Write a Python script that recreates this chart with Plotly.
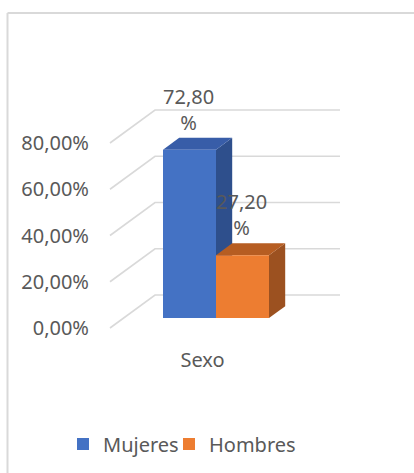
import plotly.graph_objects as go

# ---- data ----
categories = ["Sexo"]
series_names = ["Mujeres", "Hombres"]
mujeres = [72.8]
hombres = [27.2]
y_ticks = [0, 20, 40, 60, 80]
y_tick_labels = ["0,00%", "20,00%", "40,00%", "60,00%", "80,00%"]
value_labels = {"Mujeres": ["72,80<br>%"], "Hombres": ["27,20<br>%"]}

# ---- styles / geometry ----
front_colors = {"Mujeres": "#4472C4", "Hombres": "#ED7D31"}
top_colors = {"Mujeres": "#385DA8", "Hombres": "#B65D22"}
side_colors = {"Mujeres": "#2E4F8C", "Hombres": "#9C5120"}
TXT = "#595959"
FONT = "Noto Sans"
W, H = 414, 473
ML, MB = 95, 133
CAT_X = [202.5]         # category center (front plane)
BAR_W = 53
DX, DY = 45, 14.27      # full depth offset (x px units, y value units)
D0, D1 = 0.30, 0.66     # bar depth start / end
GRID_X0, GRID_X1 = 110, 340
LEGEND_X = {"Mujeres": 63, "Hombres": 169}   # legend left edges (px)

fig = go.Figure()
shapes = []

# gridlines (floor / wall), drawn below bars
for v in y_ticks:
    shapes.append(dict(type="path", xref="x", yref="y", layer="below",
                       path=f"M{GRID_X0},{v} L{GRID_X0+DX},{v+DY} L{GRID_X1},{v+DY}",
                       line=dict(color="#D9D9D9", width=1.6)))

series = {"Mujeres": mujeres, "Hombres": hombres}
annotations = []
legend_keys = ["legend", "legend2"]
for i, name in enumerate(series_names):
    vals = series[name]
    xs = [c - BAR_W / 2 + i * BAR_W + DX * D0 for c in CAT_X]
    for x, v in zip(xs, vals):
        xl = x - BAR_W / 2
        xr = x + BAR_W / 2
        b = DY * D0
        ddx = DX * (D1 - D0)
        ddy = DY * (D1 - D0)
        top = b + v
        # side face
        shapes.append(dict(type="path", xref="x", yref="y", layer="below",
                           path=f"M{xr},{b} L{xr},{top} L{xr+ddx},{top+ddy} L{xr+ddx},{b+ddy} Z",
                           fillcolor=side_colors[name], line=dict(width=0)))
        # top face
        shapes.append(dict(type="path", xref="x", yref="y", layer="below",
                           path=f"M{xl},{top} L{xr},{top} L{xr+ddx},{top+ddy} L{xl+ddx},{top+ddy} Z",
                           fillcolor=top_colors[name], line=dict(width=0)))
    fig.add_trace(go.Bar(x=xs, y=vals, base=[DY * D0] * len(vals), width=BAR_W,
                         name=name, marker=dict(color=front_colors[name], line=dict(width=0)),
                         hoverinfo="skip", legend=legend_keys[i]))
    for x, v, t in zip(xs, vals, value_labels[name]):
        annotations.append(dict(x=x - 1, y=DY * D0 + v + DY * (D1 - D0), xref="x", yref="y",
                                text=t, showarrow=False, yanchor="bottom", xanchor="center",
                                font=dict(family=FONT, size=20, color=TXT)))

# chart border (top and left)
plot_w = W - ML
plot_h = H - MB
px = lambda p: (p - ML) / plot_w
py = lambda p: 1 - p / plot_h
shapes.append(dict(type="line", xref="paper", yref="paper", x0=px(7.5), x1=px(W), y0=py(13), y1=py(13),
                   line=dict(color="#D9D9D9", width=2)))
shapes.append(dict(type="line", xref="paper", yref="paper", x0=px(7.5), x1=px(7.5), y0=py(13), y1=py(H),
                   line=dict(color="#D9D9D9", width=2)))

legend_style = dict(orientation="h", y=py(444), xanchor="left", yanchor="middle",
                    font=dict(family=FONT, size=20, color=TXT), itemwidth=30,
                    bgcolor="rgba(0,0,0,0)")

y0 = (328 - plot_h) / 2.3125
y1 = 328 / 2.3125
fig.update_layout(
    width=W, height=H,
    margin=dict(l=ML, r=0, t=0, b=MB),
    paper_bgcolor="white", plot_bgcolor="rgba(0,0,0,0)",
    barmode="overlay",
    font=dict(family=FONT, size=20, color=TXT),
    xaxis=dict(range=[ML, W], tickvals=CAT_X, ticktext=categories, showgrid=False,
               zeroline=False, showline=False, ticks="", ticklabelstandoff=6,
               tickfont=dict(family=FONT, size=20, color=TXT)),
    yaxis=dict(range=[y0, y1], tickvals=y_ticks, ticktext=y_tick_labels, showgrid=False,
               zeroline=False, showline=False, ticks="", ticklabelstandoff=5,
               tickfont=dict(family=FONT, size=20, color=TXT)),
    legend=dict(x=px(LEGEND_X["Mujeres"]), **legend_style),
    legend2=dict(x=px(LEGEND_X["Hombres"]), **legend_style),
    shapes=shapes,
    annotations=annotations,
    showlegend=True,
)

fig.write_html("out.html")
